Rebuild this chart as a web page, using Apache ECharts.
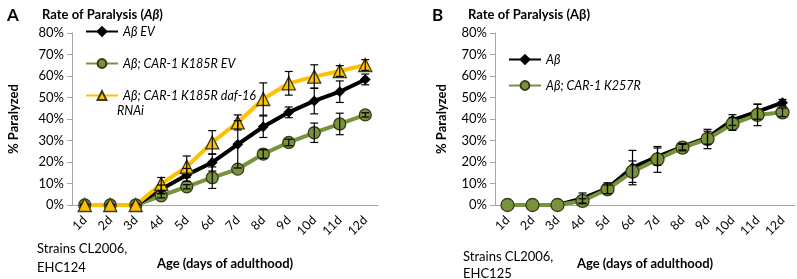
<!DOCTYPE html>
<html>
<head>
<meta charset="utf-8">
<script src="https://cdn.jsdelivr.net/npm/echarts@6/dist/echarts.min.js"></script>
<style>
  html, body { margin: 0; padding: 0; background: #fff; }
  #chart { width: 797px; height: 279px; }
</style>
</head>
<body>
<div id="chart"></div>
<script>
// days of adulthood
var days = ["1d", "2d", "3d", "4d", "5d", "6d", "7d", "8d", "9d", "10d", "11d", "12d"];
var yTicks = [0, 10, 20, 30, 40, 50, 60, 70, 80];

// panel A (% paralyzed, error = +/-)
var aEv = [0, 0, 0, 7.3, 14, 19.8, 28.2, 36.4, 43.1, 48.4, 52.7, 58.4];
var aEvErr = [0, 0, 0, 2, 3, 4, 11, 5, 2.5, 6, 5, 2.5];
var aK185r = [0, 0, 0, 4.3, 8.5, 12.7, 16.7, 23.7, 29.1, 33.6, 37.7, 41.9];
var aK185rErr = [0, 0, 0, 1, 1, 5, 0, 2, 1.5, 4.5, 5, 1];
var aDaf16 = [0, 0, 0, 9.8, 17.8, 29.1, 38.4, 49.3, 56.6, 59.7, 62.3, 65.1];
var aDaf16Err = [0, 0, 0, 3, 5, 5.5, 3.5, 7.5, 5.5, 5.5, 2.5, 2.5];

// panel B
var bAb = [0, 0, 0, 3.1, 7.8, 17.4, 22.5, 27.1, 31.3, 39.5, 43.4, 47.6];
var bAbErr = [0, 0, 0, 2.5, 2.5, 8, 4, 1.5, 3, 2.5, 3.5, 1.5];
var bK257r = [0, 0, 0, 1.9, 7.3, 15.5, 21.2, 26.7, 30.7, 37.7, 41.9, 43.1];
var bK257rErr = [0, 0, 0, 1, 2, 5, 6, 1.5, 4.5, 3, 5, 2];

var DAF = "Aβ; CAR-1 K185R daf-16 RNAi";

var FONT = "Lato";
var BLACK = "#000000";
var GREEN = "#77933C";
var YELLOW = "#FFC000";

var myChart = echarts.init(document.getElementById("chart"));

// error bar data: [index, low, high]
function errData(vals, errs) {
  var out = [];
  for (var i = 0; i < vals.length; i++) {
    if (errs[i] > 0) out.push([i, vals[i] - errs[i], vals[i] + errs[i]]);
  }
  return out;
}

function renderErr(params, api) {
  var lo = api.coord([api.value(0), api.value(1)]);
  var hi = api.coord([api.value(0), api.value(2)]);
  var w = 4;
  var st = { stroke: "#000", lineWidth: 1.2 };
  return {
    type: "group",
    children: [
      { type: "line", shape: { x1: lo[0], y1: lo[1], x2: hi[0], y2: hi[1] }, style: st },
      { type: "line", shape: { x1: lo[0] - w, y1: lo[1], x2: lo[0] + w, y2: lo[1] }, style: st },
      { type: "line", shape: { x1: hi[0] - w, y1: hi[1], x2: hi[0] + w, y2: hi[1] }, style: st },
    ],
  };
}

function errSeries(idx, vals, errs) {
  return {
    type: "custom",
    xAxisIndex: idx,
    yAxisIndex: idx,
    renderItem: renderErr,
    data: errData(vals, errs),
    z: 4,
    silent: true,
  };
}

function lineSeries(idx, name, vals, color, symbol, size) {
  return {
    name: name,
    type: "line",
    xAxisIndex: idx,
    yAxisIndex: idx,
    data: vals,
    symbol: symbol,
    symbolSize: size,
    showAllSymbol: true,
    lineStyle: { color: color, width: 4 },
    itemStyle: {
      color: color,
      borderColor: symbol === "diamond" ? "#000" : "#3a3a1a",
      borderWidth: 1.3,
    },
    z: 3,
    animation: false,
  };
}

function xAxisCfg(idx) {
  return {
    type: "category",
    gridIndex: idx,
    data: days,
    boundaryGap: true,
    axisLine: { lineStyle: { color: "#a6a6a6", width: 1 } },
    axisTick: { alignWithLabel: false, length: 5, lineStyle: { color: "#a6a6a6" } },
    axisLabel: { rotate: 45, color: "#000", fontFamily: FONT, fontSize: 12.5, margin: 13 },
    name: "Age (days of adulthood)",
    nameLocation: "middle",
    nameGap: 52,
    nameTextStyle: { fontFamily: FONT, fontSize: 13, fontWeight: "bold", color: "#000" },
  };
}

function yAxisCfg(idx, gap) {
  return {
    type: "value",
    gridIndex: idx,
    min: yTicks[0],
    max: yTicks[yTicks.length - 1],
    interval: 10,
    splitLine: { show: false },
    axisLine: { show: true, lineStyle: { color: "#a6a6a6", width: 1 } },
    axisTick: { show: true, length: 5, lineStyle: { color: "#a6a6a6" } },
    axisLabel: { color: "#000", fontFamily: FONT, fontSize: 13, formatter: "{value}%", margin: 8 },
    name: "% Paralyzed",
    nameLocation: "middle",
    nameGap: gap,
    nameTextStyle: { fontFamily: FONT, fontSize: 13, fontWeight: "bold", color: "#000" },
  };
}

var legendText = { fontFamily: FONT, fontSize: 12.5, fontStyle: "italic", color: "#000" };

var option = {
  backgroundColor: "#fff",
  textStyle: { fontFamily: FONT },
  title: [
    { text: "A", left: 2, top: 2, textStyle: { fontFamily: FONT, fontSize: 17, fontWeight: "bold", color: "#000" } },
    {
      text: "{b|Rate of Paralysis (}{bi|Aβ}{b|)}",
      left: 37, top: 3,
      textStyle: {
        rich: {
          b: { fontFamily: FONT, fontSize: 13, fontWeight: "bold", color: "#000" },
          bi: { fontFamily: FONT, fontSize: 13, fontWeight: "bold", fontStyle: "italic", color: "#000" },
        },
      },
    },
    { text: "B", left: 427, top: 2, textStyle: { fontFamily: FONT, fontSize: 17, fontWeight: "bold", color: "#000" } },
    { text: "Rate of Paralysis (Aβ)", left: 463, top: 3, textStyle: { fontFamily: FONT, fontSize: 13, fontWeight: "bold", color: "#000" } },
  ],
  legend: [
    {
      data: ["Aβ EV", "Aβ; CAR-1 K185R EV", DAF],
      formatter: function (name) {
        // the last word wraps onto its own line (drawn below)
        return name === DAF ? "Aβ; CAR-1 K185R daf-16" : name;
      },
      orient: "vertical",
      left: 80, top: 20,
      itemWidth: 32, itemHeight: 11,
      itemGap: 19,
      textStyle: legendText,
    },
    {
      data: ["Aβ", "Aβ; CAR-1 K257R"],
      orient: "vertical",
      left: 503, top: 48,
      itemWidth: 32, itemHeight: 11,
      itemGap: 13,
      textStyle: legendText,
    },
  ],
  grid: [
    { left: 72, right: 419, top: 33, bottom: 74 },
    { left: 495, right: 2, top: 33, bottom: 74 },
  ],
  xAxis: [xAxisCfg(0), xAxisCfg(1)],
  yAxis: [yAxisCfg(0, 52), yAxisCfg(1, 47)],
  graphic: [
    { type: "text", left: 117, top: 104, style: { text: "RNAi", font: "italic 12.5px Lato", fill: "#000" } },
    { type: "text", left: 37, top: 239, style: { text: "Strains CL2006,\nEHC124", font: "13px Lato", fill: "#000", lineHeight: 19 } },
    { type: "text", left: 463, top: 248, style: { text: "Strains CL2006,\nEHC125", font: "13px Lato", fill: "#000", lineHeight: 17 } },
  ],
  series: [
    lineSeries(0, "Aβ; CAR-1 K185R EV", aK185r, GREEN, "circle", 12),
    lineSeries(0, "Aβ EV", aEv, BLACK, "diamond", 9),
    lineSeries(0, DAF, aDaf16, YELLOW, "triangle", 13),
    errSeries(0, aK185r, aK185rErr),
    errSeries(0, aEv, aEvErr),
    errSeries(0, aDaf16, aDaf16Err),
    lineSeries(1, "Aβ", bAb, BLACK, "diamond", 9),
    lineSeries(1, "Aβ; CAR-1 K257R", bK257r, GREEN, "circle", 13),
    errSeries(1, bAb, bAbErr),
    errSeries(1, bK257r, bK257rErr),
  ],
};

myChart.setOption(option);
</script>
</body>
</html>
